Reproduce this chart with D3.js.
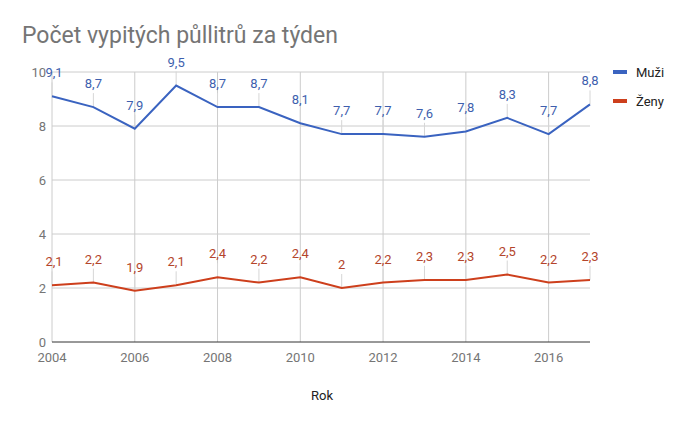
<!DOCTYPE html>
<html>
<head>
<meta charset="utf-8">
<script src="https://cdn.jsdelivr.net/npm/d3@7"></script>
<style>
  body { margin: 0; background: #fff; }
  svg { font-family: Roboto, "Noto Sans", sans-serif; }
</style>
</head>
<body>
<div id="chart"></div>
<script>
const years = [2004, 2005, 2006, 2007, 2008, 2009, 2010, 2011, 2012, 2013, 2014, 2015, 2016, 2017];
const muzi = [9.1, 8.7, 7.9, 9.5, 8.7, 8.7, 8.1, 7.7, 7.7, 7.6, 7.8, 8.3, 7.7, 8.8];
const zeny = [2.1, 2.2, 1.9, 2.1, 2.4, 2.2, 2.4, 2, 2.2, 2.3, 2.3, 2.5, 2.2, 2.3];
const yTicks = [0, 2, 4, 6, 8, 10];
const xTicks = [2004, 2006, 2008, 2010, 2012, 2014, 2016];
const seriesNames = ['Muži', 'Ženy'];
const colors = ['#3a63c0', '#cd3f1c'];
const labelColors = ['#3e5fae', '#b4452b'];

const width = 688, height = 425;
const margin = {left: 52, right: 98, top: 72, bottom: 83};

const svg = d3.select('#chart').append('svg')
    .attr('width', width)
    .attr('height', height);

const x = d3.scaleLinear()
    .domain([2004, 2017])
    .range([margin.left, width - margin.right]);
const y = d3.scaleLinear()
    .domain([0, 10])
    .range([height - margin.bottom, margin.top]);

// title
svg.append('text')
    .attr('x', 22)
    .attr('y', 43)
    .attr('font-size', 23)
    .attr('fill', '#757575')
    .text('Počet vypitých půllitrů za týden');

// grid
svg.append('g')
    .selectAll('line')
    .data(yTicks.filter(d => d > 0))
    .enter().append('line')
    .attr('x1', x(2004)).attr('x2', x(2017))
    .attr('y1', d => y(d)).attr('y2', d => y(d))
    .attr('stroke', '#cccccc');
svg.append('g')
    .selectAll('line')
    .data(xTicks.filter(d => d > 2004))
    .enter().append('line')
    .attr('x1', d => x(d)).attr('x2', d => x(d))
    .attr('y1', y(0)).attr('y2', y(10))
    .attr('stroke', '#cccccc');
svg.append('line')
    .attr('x1', x(2004)).attr('x2', x(2004))
    .attr('y1', y(0)).attr('y2', y(10))
    .attr('stroke', '#cccccc');

// axis labels
svg.append('g')
    .selectAll('text')
    .data(yTicks)
    .enter().append('text')
    .attr('x', x(2004) - 6)
    .attr('y', d => y(d) + 4.5)
    .attr('text-anchor', 'end')
    .attr('font-size', 13)
    .attr('fill', '#757575')
    .text(d => d);
svg.append('g')
    .selectAll('text')
    .data(xTicks)
    .enter().append('text')
    .attr('x', d => x(d))
    .attr('y', y(0) + 20)
    .attr('text-anchor', 'middle')
    .attr('font-size', 13)
    .attr('fill', '#757575')
    .text(d => d);

svg.append('text')
    .attr('x', 322)
    .attr('y', 400)
    .attr('text-anchor', 'middle')
    .attr('font-size', 13)
    .attr('fill', '#222')
    .text('Rok');

// series
const fmt = v => String(v).replace('.', ',');
const line = d3.line().x((d, i) => x(years[i])).y(d => y(d));

[muzi, zeny].forEach((vals, s) => {
    const g = svg.append('g');
    // annotation stems
    g.selectAll('line.stem')
        .data(vals)
        .enter().append('line')
        .attr('class', 'stem')
        .attr('x1', (d, i) => x(years[i])).attr('x2', (d, i) => x(years[i]))
        .attr('y1', d => y(d)).attr('y2', d => y(d) - 14)
        .attr('stroke', '#d6d6d6');
    g.append('path')
        .datum(vals)
        .attr('d', line)
        .attr('fill', 'none')
        .attr('stroke', colors[s])
        .attr('stroke-width', 2);
    g.selectAll('text')
        .data(vals)
        .enter().append('text')
        .attr('x', (d, i) => x(years[i]) + (i === 0 ? 2 : 0))
        .attr('y', d => y(d) - 19)
        .attr('text-anchor', 'middle')
        .attr('font-size', 13)
        .attr('fill', labelColors[s])
        .text(fmt);
});

// baseline
svg.append('line')
    .attr('x1', x(2004)).attr('x2', x(2017))
    .attr('y1', y(0)).attr('y2', y(0))
    .attr('stroke', '#333')
    .attr('stroke-width', 1);

// legend
const legend = svg.append('g')
    .selectAll('g')
    .data(seriesNames)
    .enter().append('g')
    .attr('transform', (d, i) => `translate(613, ${72 + i * 29})`);
legend.append('line')
    .attr('x1', 0).attr('x2', 14)
    .attr('y1', 0).attr('y2', 0)
    .attr('stroke', (d, i) => colors[i])
    .attr('stroke-width', 4);
legend.append('text')
    .attr('x', 23)
    .attr('y', 4.5)
    .attr('font-size', 13)
    .attr('fill', '#222')
    .text(d => d);
</script>
</body>
</html>
